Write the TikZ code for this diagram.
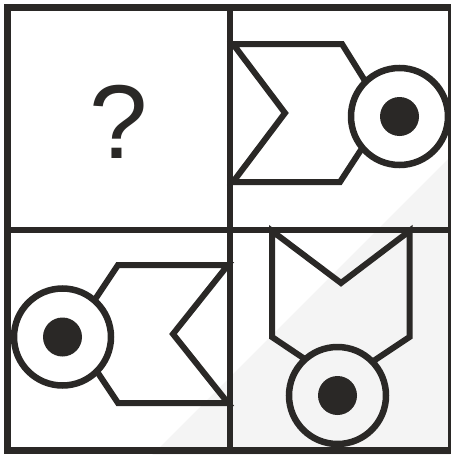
\documentclass[tikz,border=0pt]{standalone}
\usepackage{fontspec}
\setmainfont{Liberation Sans}
\definecolor{ink}{RGB}{42,40,38}
\definecolor{wm}{RGB}{244,244,244}
\begin{document}
\begin{tikzpicture}[x=1pt,y=-1pt,
  shapeline/.style={draw=ink,line width=6pt,miter limit=10},
  ring/.style={circle,draw=ink,line width=6.5pt,fill=#1,inner sep=0pt,minimum size=97pt},
  dotmark/.style={circle,fill=ink,inner sep=0pt,minimum size=39pt},
  outerline/.style={draw=ink,line width=6.8pt},
  midline/.style={draw=ink,line width=6pt}]
\useasboundingbox (0,0) rectangle (450,455);
% faint watermark
\fill[wm] (152,455) -- (450,157) -- (450,455) -- cycle;
% top-left: question mark
\node[text=ink,font=\fontsize{105}{105}\selectfont,anchor=base,inner sep=0pt] (q) at (119,158) {?};
% top-right figure
\coordinate (ta) at (233,44);
\coordinate (tb) at (342,44);
\coordinate (tt) at (385,113);
\coordinate (tc) at (340,182);
\coordinate (td) at (233,182);
\coordinate (tn) at (285,113);
\draw[shapeline] (tt) -- (tb) -- (ta) -- (tn) -- (td) -- (tc) -- cycle;
\node[ring=white] (tring) at (399.5,116.5) {};
\node[dotmark] (tdot) at (tring.center) {};
% bottom-left figure
\coordinate (la) at (228,265);
\coordinate (lb) at (118,265);
\coordinate (lt) at (72,334);
\coordinate (lc) at (118,403);
\coordinate (ld) at (228,403);
\coordinate (ln) at (173,334);
\draw[shapeline] (lt) -- (lb) -- (la) -- (ln) -- (ld) -- (lc) -- cycle;
\node[ring=white] (lring) at (62.5,337) {};
\node[dotmark] (ldot) at (lring.center) {};
% bottom-right figure
\coordinate (ra) at (272,231);
\coordinate (rn) at (341,283);
\coordinate (rb) at (409.5,231);
\coordinate (rc) at (409.5,337);
\coordinate (rt) at (340.5,383);
\coordinate (rd) at (272,337);
\draw[shapeline] (rt) -- (rd) -- (ra) -- (rn) -- (rb) -- (rc) -- cycle;
\node[ring=wm] (rring) at (337.5,395.5) {};
\node[dotmark] (rdot) at (rring.center) {};
% grid
\draw[outerline] (7.8,7.8) rectangle (451,450.6);
\draw[midline] (230.3,7.8) -- (230.3,450.6);
\draw[midline] (7.8,229.7) -- (451,229.7);
\end{tikzpicture}
\end{document}
